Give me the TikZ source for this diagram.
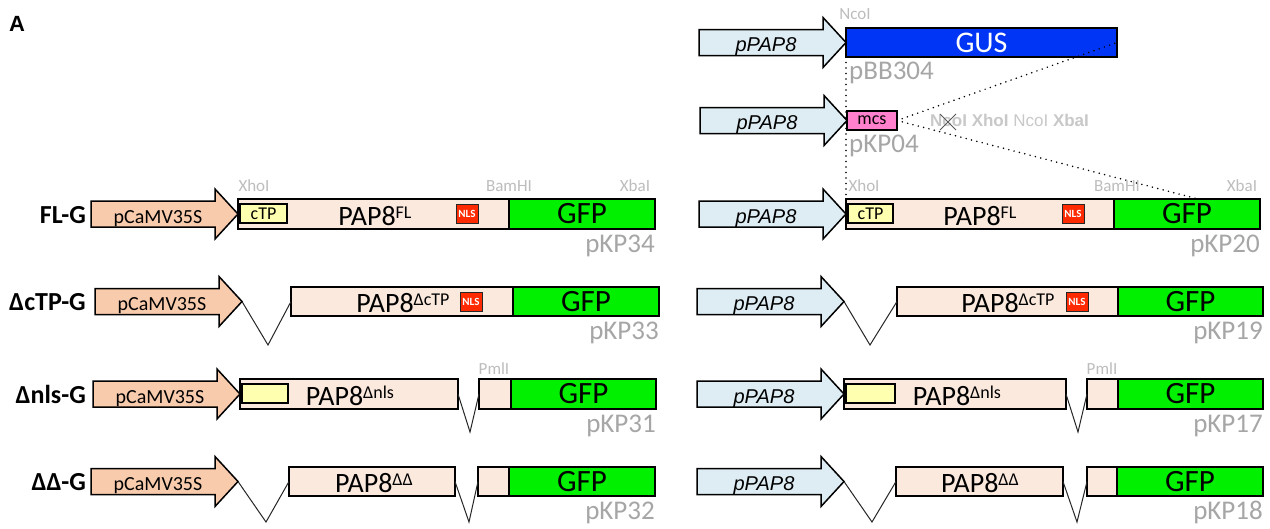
\documentclass[tikz,border=0pt]{standalone}
\usepackage{fontspec}
\setmainfont{Carlito}
\newfontfamily\arialf{Liberation Sans}
\usetikzlibrary{calc}
\definecolor{promLc}{HTML}{F8CBAD}
\definecolor{promRc}{HTML}{DEEDF4}
\definecolor{geneC}{HTML}{FBE9DE}
\definecolor{gfpC}{HTML}{00F000}
\definecolor{ctpC}{HTML}{FFFFB0}
\definecolor{nlsC}{HTML}{FF2A00}
\definecolor{gusC}{HTML}{0035F5}
\definecolor{mcsC}{HTML}{FF80CC}
\definecolor{enzC}{HTML}{BDBDBD}
\definecolor{pkpC}{HTML}{A6A6A6}
\definecolor{siteC}{HTML}{C8C8C8}
\tikzset{
  outl/.style={draw=black, line width=1.5pt},
  genebox/.style={outl, fill=geneC},
  gfpbox/.style={outl, fill=gfpC, font=\fontsize{31}{31}\selectfont},
  ctpbox/.style={draw=black, line width=1.2pt, fill=ctpC, font=\fontsize{18}{18}\selectfont},
  nlsbox/.style={draw=black!85, line width=1pt, fill=nlsC, text=white, font=\bfseries\fontsize{11}{11}\selectfont},
  gusbox/.style={outl, fill=gusC, text=white, font=\fontsize{30}{30}\selectfont},
  mcsbox/.style={draw=black, line width=1.2pt, fill=mcsC, font=\fontsize{18}{18}\selectfont},
  enz/.style={text=enzC, font=\fontsize{17}{17}\selectfont, anchor=base, inner sep=0pt},
  pkp/.style={text=pkpC, font=\fontsize{27}{27}\selectfont, anchor=base east, inner sep=0pt},
  pkpw/.style={text=pkpC, font=\fontsize{27}{27}\selectfont, anchor=base west, inner sep=0pt},
  rowlab/.style={font=\bfseries\fontsize{26}{26}\selectfont, anchor=base east, inner sep=0pt},
  papt/.style={font=\fontsize{28}{28}\selectfont, anchor=base, inner sep=0pt},
  chev/.style={draw=black!85, line width=1pt},
  dotl/.style={draw=black, line width=1.7pt, dash pattern=on 0pt off 5.5pt, line cap=round},
}
\newcommand\sups[1]{\raisebox{7pt}{\fontsize{18}{18}\selectfont #1}}
\newcommand\mkbox[7]{\node[#1, anchor=north west, inner sep=0pt, outer sep=0pt, minimum width={#4-#3}, minimum height={#6-#5}] (#2) at (#3,#5) {#7};}
\newcommand\mkprom[5]{%
  \draw[outl, fill=#4] (#2,{#3-13}) -- ({#2+124},{#3-13}) -- ({#2+124},{#3-25}) -- ({#2+147},#3) -- ({#2+124},{#3+25}) -- ({#2+124},{#3+13}) -- (#2,{#3+13}) -- cycle;
  \coordinate (#1) at ({#2+147},#3);
  \node[anchor=base, inner sep=0pt] (#1t) at ({#2+67},{#3+9}) {#5};}
\newcommand\promL[3]{\mkprom{#1}{#2}{#3}{promLc}{\fontsize{20}{20}\selectfont pCaMV35S}}
\newcommand\promR[3]{\mkprom{#1}{#2}{#3}{promRc}{\arialf\itshape\fontsize{20}{20}\selectfont pPAP8}}
\begin{document}
\begin{tikzpicture}[x=1pt, y=-1pt]
\useasboundingbox (0,0) rectangle (1270,528);
\fill[white] (0,0) rectangle (1270,528);
\node[anchor=base west, inner sep=0pt, font=\arialf\bfseries\fontsize{22}{22}\selectfont] (panel) at (9,31) {A};

% ---------- left column ----------
% row 1
\node[rowlab] (L1l) at (86,223) {FL-G};
\promL{L1p}{91}{214}
\mkbox{genebox}{L1pap}{238}{509}{199}{229}{}
\mkbox{gfpbox}{L1gfp}{509}{655}{199}{229}{GFP}
\mkbox{ctpbox}{L1ctp}{240}{287}{204}{223}{cTP}
\mkbox{nlsbox}{L1nls}{456}{478}{204}{223}{NLS}
\node[papt] (L1t) at (375,225) {PAP8\sups{FL}};
\node[enz] (L1e1) at (254,191) {XhoI};
\node[enz] (L1e2) at (509,191) {BamHI};
\node[enz] (L1e3) at (635,191) {XbaI};
\node[pkp] (L1k) at (655,252) {pKP34};

% row 2
\node[rowlab] (L2l) at (86,310.5) {ΔcTP-G};
\promL{L2p}{95}{301.5}
\mkbox{genebox}{L2pap}{291}{513}{287}{316}{}
\mkbox{gfpbox}{L2gfp}{513}{659}{287}{316}{GFP}
\mkbox{nlsbox}{L2nls}{460}{482}{292}{311}{NLS}
\coordinate (L2v) at (268,345);
\draw[chev] (L2p) -- (L2v) -- (L2pap.west);
\node[papt] (L2t) at (403,312.5) {PAP8\sups{ΔcTP}};
\node[pkp] (L2k) at (659,339.5) {pKP33};

% row 3
\node[rowlab] (L3l) at (86,403) {Δnls-G};
\promL{L3p}{93}{394}
\mkbox{genebox}{L3pap}{240}{458}{379}{409}{}
\mkbox{genebox}{L3sm}{479}{511}{379}{409}{}
\mkbox{gfpbox}{L3gfp}{511}{656}{379}{409}{GFP}
\mkbox{ctpbox}{L3ctp}{242}{288}{384}{403}{}
\coordinate (L3v) at (470,432);
\draw[chev] (L3pap.east) -- (L3v) -- (L3sm.west);
\node[papt] (L3t) at (350,405) {PAP8\sups{Δnls}};
\node[enz] (L3e) at (494,374) {PmlI};
\node[pkp] (L3k) at (656,432) {pKP31};

% row 4
\node[rowlab] (L4l) at (86,490.5) {ΔΔ-G};
\promL{L4p}{91}{481.5}
\mkbox{genebox}{L4pap}{289}{455}{467}{496}{}
\mkbox{genebox}{L4sm}{478}{509}{467}{496}{}
\mkbox{gfpbox}{L4gfp}{509}{655}{467}{496}{GFP}
\coordinate (L4v1) at (266,522);
\coordinate (L4v2) at (469,522);
\draw[chev] (L4p) -- (L4v1) -- (L4pap.west);
\draw[chev] (L4pap.east) -- (L4v2) -- (L4sm.west);
\node[papt] (L4t) at (374,492.5) {PAP8\sups{ΔΔ}};
\node[pkp] (L4k) at (655,519.5) {pKP32};

% ---------- right column ----------
% GUS
\promR{Gp}{699}{42.5}
\mkbox{gusbox}{gus}{846}{1117}{28}{57}{GUS}
\node[enz] (Ge) at (855,19) {NcoI};
\node[pkpw] (Gk) at (849,79) {pBB304};
% mcs
\promR{Mp}{700}{120.5}
\coordinate (dotend) at (1198,199);
\mkbox{genebox}{R1pap}{846}{1114}{199}{229}{}
\draw[dotl] (gus.south west) -- (gus.south west |- R1pap.north);
\draw[dotl] (897,120.5) -- (gus.east);
\draw[dotl] (897,120.5) -- (dotend);
\mkbox{mcsbox}{mcs}{847}{897}{111}{130}{mcs}
\node[pkpw] (Mk) at (849,152) {pKP04};
\node[anchor=base west, inner sep=0pt, text=siteC, font=\arialf\fontsize{17}{17}\selectfont] (sites) at (930,126) {\bfseries NcoI XhoI \mdseries NcoI \bfseries XbaI};
\coordinate (cx) at (948,122);
\draw[draw=black!65, line width=1pt] ($(cx)+(-8,-8)$) -- ($(cx)+(8,8)$);
\draw[draw=black!65, line width=1pt] ($(cx)+(-8,8)$) -- ($(cx)+(8,-8)$);

% row 1 R
\promR{R1p}{699}{214}
\mkbox{gfpbox}{R1gfp}{1114}{1260}{199}{229}{GFP}
\mkbox{ctpbox}{R1ctp}{848}{893}{204}{223}{cTP}
\mkbox{nlsbox}{R1nls}{1062}{1084}{204}{223}{NLS}
\node[papt] (R1t) at (980,225) {PAP8\sups{FL}};
\node[enz] (R1e1) at (864,191) {XhoI};
\node[enz] (R1e2) at (1117,191) {BamHI};
\node[enz] (R1e3) at (1242,191) {XbaI};
\node[pkp] (R1k) at (1260,252) {pKP20};

% row 2 R
\promR{R2p}{697}{301.5}
\mkbox{genebox}{R2pap}{897}{1118}{287}{316}{}
\mkbox{gfpbox}{R2gfp}{1118}{1263}{287}{316}{GFP}
\mkbox{nlsbox}{R2nls}{1066}{1088}{292}{311}{NLS}
\coordinate (R2v) at (870,345);
\draw[chev] (R2p) -- (R2v) -- (R2pap.west);
\node[papt] (R2t) at (1008,312.5) {PAP8\sups{ΔcTP}};
\node[pkp] (R2k) at (1263,339.5) {pKP19};

% row 3 R
\promR{R3p}{697}{394}
\mkbox{genebox}{R3pap}{844}{1066}{379}{409}{}
\mkbox{genebox}{R3sm}{1087}{1118}{379}{409}{}
\mkbox{gfpbox}{R3gfp}{1118}{1263}{379}{409}{GFP}
\mkbox{ctpbox}{R3ctp}{846}{895}{384}{403}{}
\coordinate (R3v) at (1078,432);
\draw[chev] (R3pap.east) -- (R3v) -- (R3sm.west);
\node[papt] (R3t) at (957,405) {PAP8\sups{Δnls}};
\node[enz] (R3e) at (1102,374) {PmlI};
\node[pkp] (R3k) at (1263,432) {pKP17};

% row 4 R
\promR{R4p}{697}{481.5}
\mkbox{genebox}{R4pap}{896}{1063}{467}{496}{}
\mkbox{genebox}{R4sm}{1087}{1117}{467}{496}{}
\mkbox{gfpbox}{R4gfp}{1117}{1263}{467}{496}{GFP}
\coordinate (R4v1) at (872,522);
\coordinate (R4v2) at (1077,522);
\draw[chev] (R4p) -- (R4v1) -- (R4pap.west);
\draw[chev] (R4pap.east) -- (R4v2) -- (R4sm.west);
\node[papt] (R4t) at (980,492.5) {PAP8\sups{ΔΔ}};
\node[pkp] (R4k) at (1263,519.5) {pKP18};
\end{tikzpicture}
\end{document}
